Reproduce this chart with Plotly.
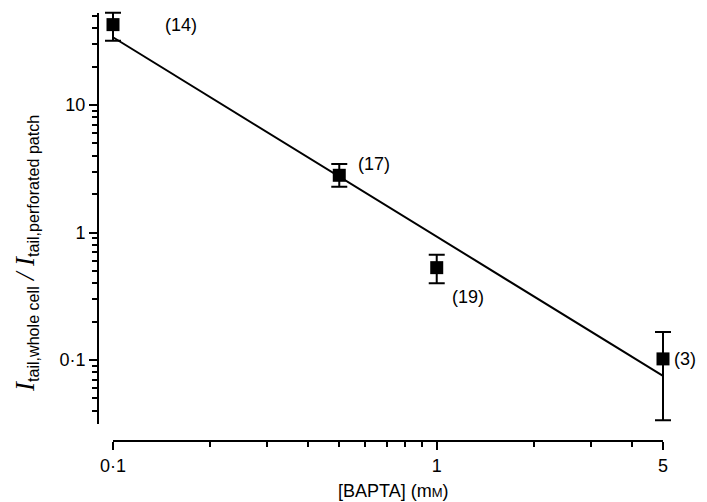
import plotly.graph_objects as go
import math

# Data
bapta_mM = [0.1, 0.5, 1.0, 5.0]
ratio = [42.7, 2.81, 0.53, 0.102]
err_top = [53.0, 3.45, 0.67, 0.166]
err_bottom = [31.9, 2.28, 0.40, 0.0337]
n_labels = ["(14)", "(17)", "(19)", "(3)"]

fit_x = [0.1, 5.0]
fit_y = [34.0, 0.075]

x_major = [0.1, 1, 5]
x_major_text = ["0·1", "1", "5"]
x_minor = [0.2, 0.3, 0.4, 0.5, 0.6, 0.7, 0.8, 0.9, 2, 3, 4]
y_major = [0.1, 1, 10]
y_major_text = ["0·1", "1", "10"]
y_minor = [0.04, 0.05, 0.06, 0.07, 0.08, 0.09, 0.2, 0.3, 0.4, 0.5, 0.6, 0.7, 0.8, 0.9,
           2, 3, 4, 5, 6, 7, 8, 9, 20, 30, 40, 50]

W, H = 707, 502
FONT = "Liberation Sans, Arial, sans-serif"

err_plus = [t - v for t, v in zip(err_top, ratio)]
err_minus = [v - b for v, b in zip(ratio, err_bottom)]

# geometry (pixels)
x0, x1 = 105, 655
ytop, ybot = 5, 416
ppd_y = 127.5
x_lo_log, x_hi_log = -1.0, math.log10(5)
ppd_x = (x1 - x0) / (x_hi_log - x_lo_log)
y_hi_log = 1 + (97 - ytop) / ppd_y
y_lo_log = -1 - (ybot - 352) / ppd_y
padx, pady_b, pady_t = 25, 20, ytop

fig = go.Figure()
# invisible trace to hold the visible axes subplot
fig.add_trace(go.Scatter(x=[0.1, 5], y=[1, 1], mode="lines", opacity=0,
                         line=dict(width=0), showlegend=False, hoverinfo="skip",
                         xaxis="x", yaxis="y"))
fig.add_trace(go.Scatter(
    x=fit_x, y=fit_y, mode="lines", xaxis="x2", yaxis="y2",
    line=dict(color="black", width=2), showlegend=False, hoverinfo="skip"))
fig.add_trace(go.Scatter(
    x=bapta_mM, y=ratio, mode="markers", xaxis="x2", yaxis="y2",
    marker=dict(symbol="square", size=13, color="black"),
    error_y=dict(type="data", symmetric=False, array=err_plus, arrayminus=err_minus,
                 color="black", thickness=2, width=8),
    cliponaxis=False, showlegend=False))

offsets = [(50, 0), (17, 11), (13, -29), (9, 0)]
for xv, yv, lab, (dx, dy) in zip(bapta_mM, ratio, n_labels, offsets):
    fig.add_annotation(x=math.log10(xv), y=math.log10(yv), xref="x2", yref="y2",
                       text=lab, showarrow=False,
                       xanchor="left", yanchor="middle", xshift=dx, yshift=dy,
                       font=dict(family=FONT, size=18, color="black"))

fig.update_layout(
    width=W, height=H, margin=dict(l=0, r=0, t=0, b=0),
    paper_bgcolor="white", plot_bgcolor="rgba(0,0,0,0)",
    xaxis=dict(type="log", range=[x_lo_log, x_hi_log],
               domain=[x0 / W, x1 / W], anchor="free", position=1 - 433 / H,
               showline=True, linecolor="black", linewidth=2, showgrid=False, zeroline=False,
               tickmode="array", tickvals=x_major, ticktext=x_major_text,
               ticks="outside", ticklen=8, tickwidth=2, tickcolor="black",
               tickfont=dict(family=FONT, size=18, color="black"),
               minor=dict(tickmode="array", tickvals=x_minor, ticks="outside", ticklen=5,
                          tickwidth=2, tickcolor="black", showgrid=False),
               automargin=False, fixedrange=True),
    yaxis=dict(type="log", range=[y_lo_log, y_hi_log],
               domain=[1 - ybot / H, 1 - ytop / H], anchor="free", position=90 / W,
               showline=True, linecolor="black", linewidth=2, showgrid=False, zeroline=False,
               tickmode="array", tickvals=y_major, ticktext=y_major_text,
               ticks="outside", ticklen=8, tickwidth=2, tickcolor="black",
               tickfont=dict(family=FONT, size=18, color="black"),
               minor=dict(tickmode="array", tickvals=y_minor, ticks="outside", ticklen=5,
                          tickwidth=2, tickcolor="black", showgrid=False),
               automargin=False, fixedrange=True),
    xaxis2=dict(type="log", visible=False, anchor="y2",
                range=[x_lo_log - padx / ppd_x, x_hi_log + padx / ppd_x],
                domain=[(x0 - padx) / W, (x1 + padx) / W], fixedrange=True),
    yaxis2=dict(type="log", visible=False, anchor="x2",
                range=[y_lo_log - pady_b / ppd_y, y_hi_log + pady_t / ppd_y],
                domain=[1 - (ybot + pady_b) / H, 1 - (ytop - pady_t) / H], fixedrange=True),
)

fig.add_annotation(xref="paper", yref="paper", x=385 / W, y=1 - 483 / H,
                   text="[BAPTA] (m<span style=\"font-size:13px\">M</span>)",
                   showarrow=False, xanchor="center", yanchor="middle",
                   font=dict(family=FONT, size=18, color="black"))
ytitle = ("<span style=\"font-family:Liberation Serif;font-size:27px\"><i>I</i></span>"
          "<sub>tail,whole cell</sub> "
          "<span style=\"font-family:Liberation Serif;font-size:27px\"><i>/</i></span> "
          "<span style=\"font-family:Liberation Serif;font-size:27px\"><i>I</i></span>"
          "<sub>tail,perforated patch</sub>")
fig.add_annotation(xref="paper", yref="paper", x=18 / W, y=1 - 246 / H,
                   text=ytitle, textangle=-90, showarrow=False,
                   xanchor="center", yanchor="middle",
                   font=dict(family=FONT, size=23, color="black"))

fig.write_html("out.html")
